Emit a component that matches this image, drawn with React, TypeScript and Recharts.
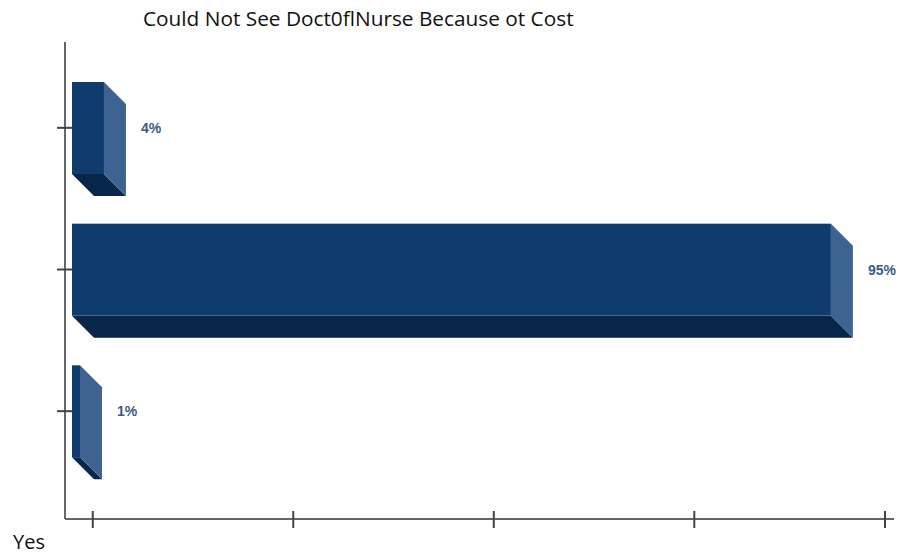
import React from "react"
import { Bar, BarChart, LabelList, XAxis, YAxis } from "recharts"

const categories = ["Yes", "No", "Don't know"]
const percents = [4, 95, 1]
const xTicks = [2.6, 27.7, 52.8, 77.9, 102.9]

const data = categories.map((name, i) => ({ name, value: percents[i] }))

const DEPTH = 22

function Bar3D(props: any) {
  const { x, y, width, height } = props
  const r = x + width
  const b = y + height
  return (
    <g>
      <polygon
        points={`${x},${b} ${r},${b} ${r + DEPTH},${b + DEPTH} ${x + DEPTH},${b + DEPTH}`}
        fill="#08254a"
      />
      <polygon
        points={`${r},${y} ${r + DEPTH},${y + DEPTH} ${r + DEPTH},${b + DEPTH} ${r},${b}`}
        fill="#3c6392"
      />
      <rect x={x} y={y} width={width} height={height} fill="#0f3b6d" />
    </g>
  )
}

function YTick(props: any) {
  const { x, y } = props
  return <line x1={x - 8} x2={x + 7} y1={y} y2={y} stroke="#444" strokeWidth={2} />
}

function XTick(props: any) {
  const { x, y } = props
  return <line x1={x} x2={x} y1={y - 8} y2={y + 9} stroke="#444" strokeWidth={2} />
}

function PctLabel(props: any) {
  const { x, y, width, height, value } = props
  return (
    <text
      x={x + width + DEPTH + 15}
      y={y + height / 2}
      dominantBaseline="central"
      fill="#3a5a84"
      fontFamily="Liberation Sans, Arial, sans-serif"
      fontWeight="bold"
      fontSize={14}
    >
      {value}%
    </text>
  )
}

export default function App() {
  return (
    <div style={{ position: "absolute", left: 0, top: 0, width: 903, height: 556, background: "#fff" }}>
      <BarChart
        width={903}
        height={556}
        data={data}
        layout="vertical"
        margin={{ top: 42, right: 9, bottom: 27, left: 55 }}
      >
        <XAxis
          type="number"
          domain={[0, 102.9]}
          ticks={xTicks}
          padding={{ left: 7, right: 0 }}
          height={10}
          tickSize={0}
          tickMargin={0}
          tickLine={false}
          tick={<XTick />}
          axisLine={{ stroke: "#666", strokeWidth: 2 }}
        />
        <YAxis
          type="category"
          dataKey="name"
          width={10}
          padding={{ top: 15, bottom: 37 }}
          tickSize={0}
          tickMargin={0}
          tickLine={false}
          tick={<YTick />}
          axisLine={{ stroke: "#666", strokeWidth: 2 }}
        />
        <Bar dataKey="value" barSize={92} shape={<Bar3D />} isAnimationActive={false}>
          <LabelList dataKey="value" content={<PctLabel />} />
        </Bar>
      </BarChart>
      <svg
        width={903}
        height={556}
        style={{ position: "absolute", left: 0, top: 0, pointerEvents: "none" }}
      >
        <text x={143} y={26} fontFamily="Open Sans, sans-serif" fontSize={20.8} fill="#111">
          Could Not See Doct0flNurse Because ot Cost
        </text>
        <text x={13} y={549} fontFamily="Open Sans, sans-serif" fontSize={20} fill="#111">
          Yes
        </text>
      </svg>
    </div>
  )
}
